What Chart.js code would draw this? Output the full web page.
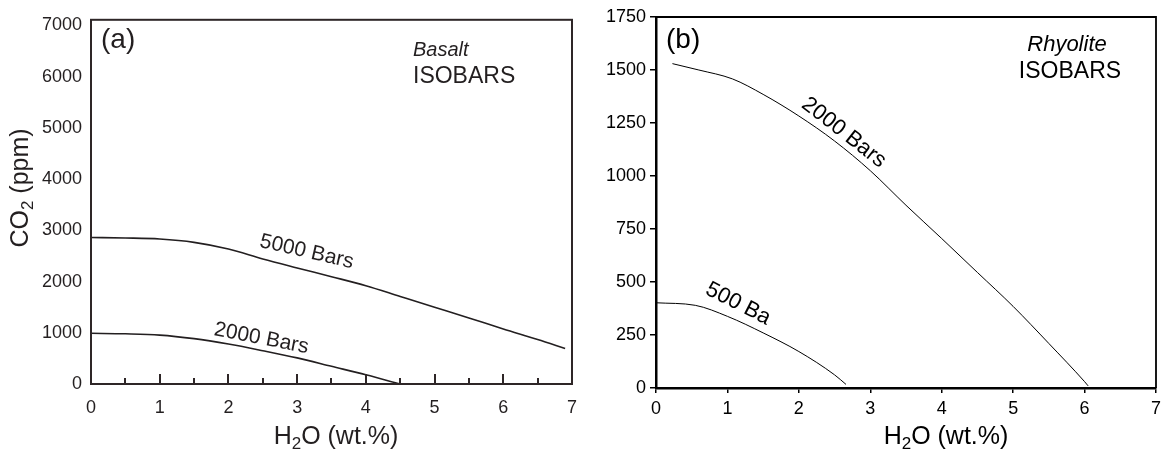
<!DOCTYPE html>
<html lang="en">
<head>
<meta charset="utf-8" />
<title>CO2 - H2O isobars</title>
<script src="https://cdn.jsdelivr.net/npm/chart.js@4.4.0/dist/chart.umd.min.js"></script>
<style>
  body { margin: 0; background: #fff; }
  .panel { position: absolute; top: 0; height: 455px; }
  #basaltBox { left: 0; width: 590px; }
  #rhyoliteBox { left: 590px; width: 576px; }
</style>
</head>
<body>
<div class="panel" id="basaltBox"><canvas id="basalt" width="590" height="455"></canvas></div>
<div class="panel" id="rhyoliteBox"><canvas id="rhyolite" width="576" height="455"></canvas></div>

<script>
// (a) basalt isobars
var basalt5000H2O = [0, 0.5, 1, 1.5, 2, 2.5, 3, 3.5, 4, 4.5, 5, 5.5, 6, 6.5, 6.9];
var basalt5000CO2 = [2860, 2850, 2830, 2765, 2635, 2440, 2265, 2095, 1920, 1710, 1500, 1290, 1075, 870, 695];
var basalt2000H2O = [0, 0.5, 1, 1.5, 2, 2.5, 3, 3.5, 4, 4.5];
var basalt2000CO2 = [990, 980, 955, 885, 780, 650, 510, 345, 180, 0];

// (b) rhyolite isobars
var rhyolite2000H2O = [0.23, 0.6, 1.07, 1.5, 2, 2.5, 3, 3.5, 4, 4.5, 5, 5.5, 6, 6.05];
var rhyolite2000CO2 = [1530, 1500, 1458, 1385, 1283, 1165, 1025, 862, 705, 545, 385, 210, 30, 10];
var rhyolite500H2O = [0, 0.55, 1, 1.5, 2, 2.5, 2.66];
var rhyolite500CO2 = [402, 390, 338, 260, 172, 62, 17];

// axis ticks
var h2oTicks = [0, 1, 2, 3, 4, 5, 6, 7];
var basaltCO2Ticks = [0, 1000, 2000, 3000, 4000, 5000, 6000, 7000];
var basaltInnerTicks = [0.5, 1, 1.5, 2, 2.5, 3, 3.5, 4, 4.5, 5, 5.5, 6, 6.5];
var rhyoliteCO2Ticks = [0, 250, 500, 750, 1000, 1250, 1500, 1750];

// curve names, placed in data units next to each curve
var basaltCurveLabels = [
  { text: '5000 Bars', x: 3.14, y: 2580, angle: 13 },
  { text: '2000 Bars', x: 2.48, y: 890, angle: 11 }
];
var rhyoliteCurveLabels = [
  { text: '2000 Bars', x: 2.63, y: 1205, angle: 38 },
  { text: '500 Ba', x: 1.15, y: 397, angle: 27 }
];

var FONT = '"Liberation Sans", Arial, sans-serif';
var INK = '#231f20';

function toPoints(xs, ys) {
  return xs.map(function (x, i) { return { x: x, y: ys[i] }; });
}

// text with subscript parts, centred on (x, y)
function drawRich(ctx, parts, x, y, size, rot, color) {
  var main = size + 'px ' + FONT;
  var sub = Math.round(size * 0.68) + 'px ' + FONT;
  ctx.save();
  ctx.translate(x, y);
  ctx.rotate(rot || 0);
  ctx.fillStyle = color;
  ctx.textBaseline = 'middle';
  ctx.textAlign = 'left';
  var w = 0;
  parts.forEach(function (p) {
    ctx.font = p.sub ? sub : main;
    w += ctx.measureText(p.t).width;
  });
  var cx = -w / 2;
  parts.forEach(function (p) {
    ctx.font = p.sub ? sub : main;
    ctx.fillText(p.t, cx, p.sub ? size * 0.3 : 0);
    cx += ctx.measureText(p.t).width;
  });
  ctx.restore();
}

function drawText(ctx, text, x, y, font, color, align) {
  ctx.save();
  ctx.font = font;
  ctx.fillStyle = color;
  ctx.textAlign = align || 'left';
  ctx.textBaseline = 'middle';
  ctx.fillText(text, x, y);
  ctx.restore();
}

function drawCurveLabels(chart, labels, size, color) {
  var ctx = chart.ctx;
  labels.forEach(function (l) {
    var px = chart.scales.x.getPixelForValue(l.x);
    var py = chart.scales.y.getPixelForValue(l.y);
    ctx.save();
    ctx.translate(px, py);
    ctx.rotate(l.angle * Math.PI / 180);
    ctx.font = size + 'px ' + FONT;
    ctx.fillStyle = color;
    ctx.textAlign = 'center';
    ctx.textBaseline = 'middle';
    ctx.fillText(l.text, 0, 0);
    ctx.restore();
  });
}

var h2oTitle = [{ t: 'H' }, { t: '2', sub: true }, { t: 'O (wt.%)' }];
var co2Title = [{ t: 'CO' }, { t: '2', sub: true }, { t: ' (ppm)' }];

var basaltDecor = {
  id: 'basaltDecor',
  afterDraw: function (chart) {
    var ctx = chart.ctx, a = chart.chartArea, xs = chart.scales.x;
    ctx.save();
    ctx.strokeStyle = '#2e2627';
    ctx.lineWidth = 2;
    ctx.strokeRect(a.left, a.top, a.right - a.left, a.bottom - a.top);
    // short ticks pointing into the plot
    basaltInnerTicks.forEach(function (v) {
      var px = Math.round(xs.getPixelForValue(v));
      var len = Number.isInteger(v) ? 10 : 6;
      ctx.beginPath();
      ctx.moveTo(px, a.bottom);
      ctx.lineTo(px, a.bottom - len);
      ctx.stroke();
    });
    ctx.restore();

    drawCurveLabels(chart, basaltCurveLabels, 21, INK);
    drawText(ctx, '(a)', 101, 40, '28px ' + FONT, INK);
    drawText(ctx, 'Basalt', 413, 50, 'italic 20px ' + FONT, INK);
    drawText(ctx, 'ISOBARS', 413, 77, '23px ' + FONT, INK);
    drawRich(ctx, h2oTitle, 336, 437, 25, 0, INK);
    drawRich(ctx, co2Title, 21, 188, 25, -Math.PI / 2, INK);
  }
};

var rhyoliteDecor = {
  id: 'rhyoliteDecor',
  afterDraw: function (chart) {
    var ctx = chart.ctx, a = chart.chartArea;
    ctx.save();
    ctx.strokeStyle = '#000';
    ctx.lineWidth = 1.8;
    ctx.beginPath();
    ctx.moveTo(a.left, a.top);
    ctx.lineTo(a.right, a.top);
    ctx.lineTo(a.right, a.bottom);
    ctx.stroke();
    ctx.restore();

    drawCurveLabels(chart, rhyoliteCurveLabels, 22, '#000');
    drawText(ctx, '(b)', 76, 40, '28px ' + FONT, '#000');
    drawText(ctx, 'Rhyolite', 477, 45, 'italic 22px ' + FONT, '#000', 'center');
    drawText(ctx, 'ISOBARS', 480, 72, '23px ' + FONT, '#000', 'center');
    drawRich(ctx, h2oTitle, 356, 437, 25, 0, '#000');
  }
};

function fixedTicks(list) {
  return function (scale) {
    scale.ticks = list.map(function (v) { return { value: v }; });
  };
}

function plainNumber(v) { return String(v); }

new Chart(document.getElementById('basalt'), {
  type: 'line',
  data: {
    datasets: [
      { data: toPoints(basalt5000H2O, basalt5000CO2), borderColor: INK, borderWidth: 1.6 },
      { data: toPoints(basalt2000H2O, basalt2000CO2), borderColor: INK, borderWidth: 1.6 }
    ]
  },
  options: {
    responsive: false,
    animation: false,
    events: [],
    layout: { padding: { top: 13, right: 13, left: 0, bottom: 0 } },
    elements: { point: { radius: 0 }, line: { cubicInterpolationMode: 'monotone' } },
    plugins: { legend: { display: false }, tooltip: { enabled: false } },
    scales: {
      x: {
        type: 'linear', min: 0, max: 7,
        afterBuildTicks: fixedTicks(h2oTicks),
        afterFit: function (s) { s.height = 71; },
        grid: { display: false, drawTicks: false },
        border: { display: false },
        ticks: { padding: 13, color: INK, font: { size: 18, family: FONT }, callback: plainNumber }
      },
      y: {
        type: 'linear', min: 0, max: 7110,
        afterBuildTicks: fixedTicks(basaltCO2Ticks),
        afterFit: function (s) { s.width = 91; },
        grid: { display: false, drawTicks: false },
        border: { display: false },
        ticks: { padding: 9, color: INK, font: { size: 18, family: FONT }, callback: plainNumber }
      }
    }
  },
  plugins: [basaltDecor]
});

new Chart(document.getElementById('rhyolite'), {
  type: 'line',
  data: {
    datasets: [
      { data: toPoints(rhyolite2000H2O, rhyolite2000CO2), borderColor: '#000', borderWidth: 1 },
      { data: toPoints(rhyolite500H2O, rhyolite500CO2), borderColor: '#000', borderWidth: 1 }
    ]
  },
  options: {
    responsive: false,
    animation: false,
    events: [],
    layout: { padding: { top: 17, right: 10, left: 0, bottom: 0 } },
    elements: { point: { radius: 0 }, line: { cubicInterpolationMode: 'monotone' } },
    plugins: { legend: { display: false }, tooltip: { enabled: false } },
    scales: {
      x: {
        type: 'linear', min: 0, max: 7,
        afterBuildTicks: fixedTicks(h2oTicks),
        afterFit: function (s) { s.height = 67; },
        grid: { drawOnChartArea: false, drawTicks: true, tickLength: 5, color: '#000', lineWidth: 1.5 },
        border: { display: true, color: '#000', width: 2.5 },
        ticks: { padding: 5, color: '#000', font: { size: 18, family: FONT }, callback: plainNumber }
      },
      y: {
        type: 'linear', min: 0, max: 1750,
        afterBuildTicks: fixedTicks(rhyoliteCO2Ticks),
        afterFit: function (s) { s.width = 66; },
        grid: { drawOnChartArea: false, drawTicks: true, tickLength: 6, color: '#000', lineWidth: 1.5 },
        border: { display: true, color: '#000', width: 2.5 },
        ticks: { padding: 4, color: '#000', font: { size: 18, family: FONT }, callback: plainNumber }
      }
    }
  },
  plugins: [rhyoliteDecor]
});
</script>
</body>
</html>
